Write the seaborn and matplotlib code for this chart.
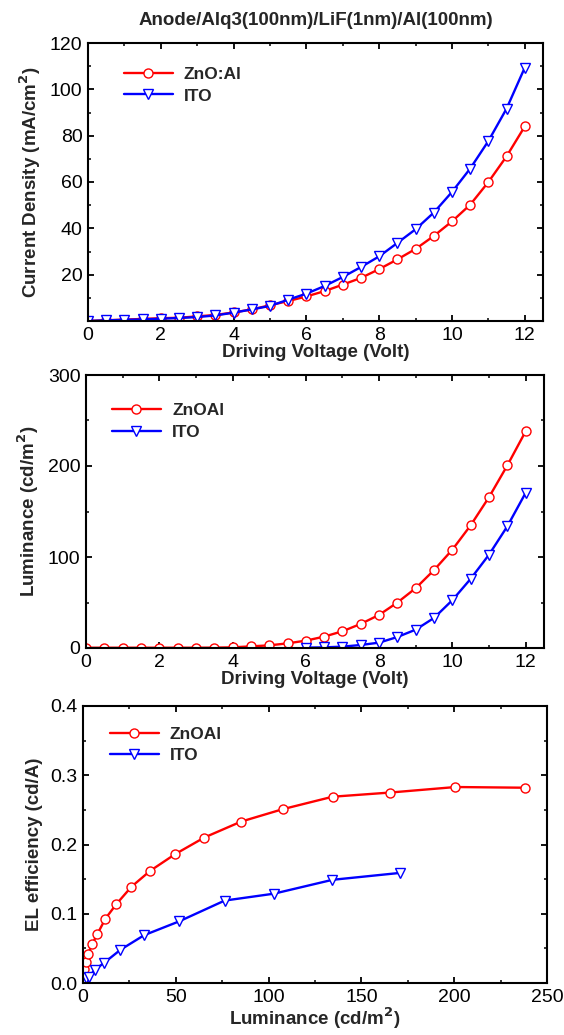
import matplotlib
matplotlib.use("Agg")
import matplotlib.pyplot as plt
from matplotlib.ticker import MultipleLocator, FormatStrFormatter
import seaborn as sns
import pandas as pd

# Driving voltage sweep (V)
voltage = [0.0, 0.5, 1.0, 1.5, 2.0, 2.5, 3.0, 3.5, 4.0, 4.5, 5.0, 5.5, 6.0,
           6.5, 7.0, 7.5, 8.0, 8.5, 9.0, 9.5, 10.0, 10.5, 11.0, 11.5, 12.0]

# Current density (mA/cm^2)
j_znoal = [0.0, 0.3, 0.6, 0.9, 1.2, 1.4, 2.0, 2.6, 3.7, 5.0, 6.8, 8.6, 10.6,
           12.9, 15.7, 18.6, 22.4, 26.6, 31.1, 36.7, 43.0, 50.2, 60.0, 71.1, 84.0]
j_ito = [0.0, 0.3, 0.5, 0.7, 1.0, 1.3, 1.7, 2.4, 3.6, 5.0, 6.5, 9.2, 11.8,
         15.1, 19.0, 23.3, 27.9, 33.7, 39.6, 46.8, 55.7, 65.8, 77.7, 91.7, 109.4]

# Luminance (cd/m^2); ITO device lights up from 6 V
lum_znoal = [0.3, 0.3, 0.3, 0.3, 0.3, 0.3, 0.3, 0.4, 0.7, 1.8, 2.9, 5.1, 8.1,
             12.5, 18.4, 26.5, 36.4, 50.0, 65.8, 85.7, 108.1, 134.9, 165.8, 200.7, 238.2]
voltage_ito_lum = [6.0, 6.5, 7.0, 7.5, 8.0, 8.5, 9.0, 9.5, 10.0, 10.5, 11.0, 11.5, 12.0]
lum_ito = [0.4, 0.7, 1.5, 3.3, 5.9, 12.1, 20.2, 33.1, 52.6, 76.1, 102.6, 133.8, 170.6]

# EL efficiency (cd/A) against luminance
eff_lum_znoal = [0.3, 0.7, 1.5, 2.7, 4.9, 7.8, 12.1, 18.0, 26.1, 36.2, 49.6,
                 65.3, 85.1, 107.6, 134.5, 165.3, 200.7, 237.9]
eff_znoal = [0.007, 0.020, 0.031, 0.042, 0.056, 0.071, 0.093, 0.114, 0.139, 0.162,
             0.186, 0.210, 0.233, 0.251, 0.269, 0.275, 0.283, 0.282]
eff_lum_ito = [0.4, 0.7, 1.5, 3.3, 6.3, 11.3, 20.2, 32.9, 51.8, 76.3, 102.9, 134.4, 170.9]
eff_ito = [0.003, 0.005, 0.007, 0.009, 0.019, 0.029, 0.048, 0.069, 0.089, 0.119,
           0.129, 0.149, 0.159]

sns.set_theme(style="ticks")
plt.rcParams.update({
    "font.family": ["Liberation Sans", "DejaVu Sans"],
    "axes.linewidth": 1.5,
    "xtick.direction": "in",
    "ytick.direction": "in",
    "xtick.top": True,
    "ytick.right": True,
    "xtick.major.size": 4.5,
    "ytick.major.size": 4.5,
    "xtick.minor.size": 2.5,
    "ytick.minor.size": 2.5,
    "xtick.major.width": 1.3,
    "ytick.major.width": 1.3,
    "xtick.minor.width": 1.1,
    "ytick.minor.width": 1.1,
    "xtick.minor.visible": True,
    "ytick.minor.visible": True,
    "xtick.major.pad": 4,
    "ytick.major.pad": 4,
    "xtick.color": "black",
    "ytick.color": "black",
    "axes.edgecolor": "black",
})

RED = "#ff0000"
BLUE = "#0000ff"
circle = dict(marker="o", markersize=6.5, markerfacecolor="white",
              markeredgecolor=RED, markeredgewidth=1.0, color=RED, linewidth=1.7)
tri = dict(marker="v", markersize=7, markerfacecolor="white",
           markeredgecolor=BLUE, markeredgewidth=1.0, color=BLUE, linewidth=1.7)

W, H = 564, 1035
fig = plt.figure(figsize=(W / 100, H / 100), dpi=100)


def add_axes(left, right, top, bottom):
    return fig.add_axes([left / W, 1 - bottom / H, (right - left) / W, (bottom - top) / H])


ax1 = add_axes(88, 543, 43, 321)
ax2 = add_axes(86, 544, 375, 648)
ax3 = add_axes(83, 547, 706, 983)

TICK_FS = 14
LABEL_FS = 13.5
LEG_FS = 12.5


def style_axes(ax):
    ax.tick_params(axis="both", which="both", labelsize=TICK_FS)


def add_legend(ax, labels, x0, y0):
    return ax.legend(labels=labels, handles=ax.get_lines()[:2], loc="upper left",
                     bbox_to_anchor=(x0, y0), frameon=False, borderpad=0,
                     borderaxespad=0, handlelength=2.8, handletextpad=0.65,
                     labelspacing=0.38, prop={"size": LEG_FS, "weight": "bold"})


# Panel 1: current density vs voltage
df1 = pd.DataFrame({"V": voltage, "ZnOAl": j_znoal, "ITO": j_ito})
sns.lineplot(data=df1, x="V", y="ZnOAl", ax=ax1, sort=False, **circle)
sns.lineplot(data=df1, x="V", y="ITO", ax=ax1, sort=False, **tri)
ax1.set_xlim(0, 12.5)
ax1.set_ylim(0, 120)
ax1.xaxis.set_major_locator(MultipleLocator(2))
ax1.xaxis.set_minor_locator(MultipleLocator(1))
ax1.set_yticks([20, 40, 60, 80, 100, 120])
ax1.yaxis.set_minor_locator(MultipleLocator(10))
ax1.set_xlabel("Driving Voltage (Volt)", fontsize=LABEL_FS, fontweight="bold", labelpad=0)
ax1.set_ylabel("Current Density (mA/cm$^\\mathbf{2}$)", fontsize=LABEL_FS, fontweight="bold", labelpad=5)
ax1.set_title("Anode/Alq3(100nm)/LiF(1nm)/Al(100nm)", fontsize=LABEL_FS, fontweight="bold", pad=13)
style_axes(ax1)
add_legend(ax1, ["ZnO:Al", "ITO"], 0.079, 0.915)

# Panel 2: luminance vs voltage
df2a = pd.DataFrame({"V": voltage, "L": lum_znoal})
df2b = pd.DataFrame({"V": voltage_ito_lum, "L": lum_ito})
sns.lineplot(data=df2a, x="V", y="L", ax=ax2, sort=False, **circle)
sns.lineplot(data=df2b, x="V", y="L", ax=ax2, sort=False, **tri)
ax2.set_xlim(0, 12.5)
ax2.set_ylim(0, 300)
ax2.xaxis.set_major_locator(MultipleLocator(2))
ax2.xaxis.set_minor_locator(MultipleLocator(1))
ax2.yaxis.set_major_locator(MultipleLocator(100))
ax2.yaxis.set_minor_locator(MultipleLocator(50))
ax2.set_xlabel("Driving Voltage (Volt)", fontsize=LABEL_FS, fontweight="bold", labelpad=0)
ax2.set_ylabel("Luminance (cd/m$^\\mathbf{2}$)", fontsize=LABEL_FS, fontweight="bold", labelpad=5)
style_axes(ax2)
add_legend(ax2, ["ZnOAl", "ITO"], 0.057, 0.897)

# Panel 3: EL efficiency vs luminance
df3a = pd.DataFrame({"L": eff_lum_znoal, "eff": eff_znoal})
df3b = pd.DataFrame({"L": eff_lum_ito, "eff": eff_ito})
sns.lineplot(data=df3a, x="L", y="eff", ax=ax3, sort=False, **circle)
sns.lineplot(data=df3b, x="L", y="eff", ax=ax3, sort=False, **tri)
ax3.set_xlim(0, 250)
ax3.set_ylim(0, 0.4)
ax3.xaxis.set_major_locator(MultipleLocator(50))
ax3.xaxis.set_minor_locator(MultipleLocator(25))
ax3.yaxis.set_major_locator(MultipleLocator(0.1))
ax3.yaxis.set_minor_locator(MultipleLocator(0.05))
ax3.yaxis.set_major_formatter(FormatStrFormatter("%.1f"))
ax3.set_xlabel("Luminance (cd/m$^\\mathbf{2}$)", fontsize=LABEL_FS, fontweight="bold", labelpad=0)
ax3.set_ylabel("EL efficiency (cd/A)", fontsize=LABEL_FS, fontweight="bold", labelpad=5)
style_axes(ax3)
add_legend(ax3, ["ZnOAl", "ITO"], 0.058, 0.926)

for ax in (ax1, ax2, ax3):
    for spine in ax.spines.values():
        spine.set_visible(True)
        spine.set_linewidth(1.5)

fig.savefig("out.png", dpi=100)
